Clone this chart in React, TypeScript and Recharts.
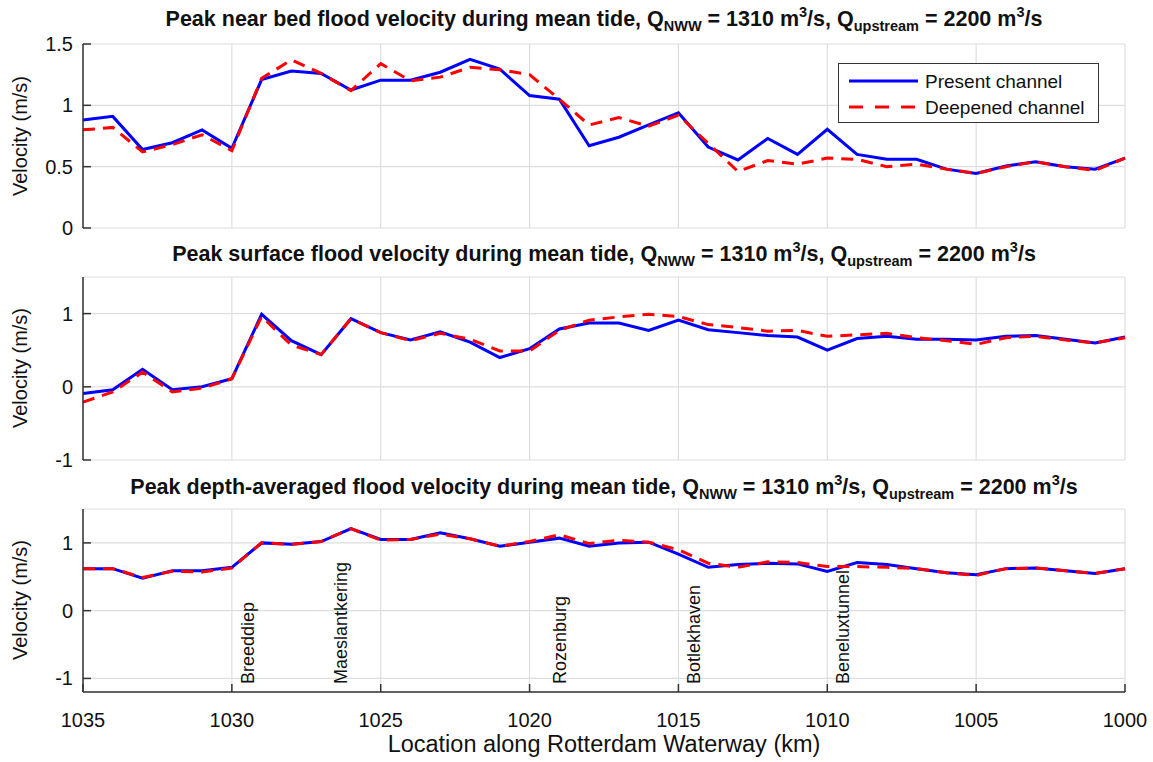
// Flood velocity along Rotterdam Waterway — three stacked panels
import React from "react"
import { LineChart, Line, XAxis, YAxis, CartesianGrid, ReferenceLine } from "recharts"

const km = [
  1035, 1034, 1033, 1032, 1031, 1030, 1029, 1028, 1027, 1026, 1025, 1024,
  1023, 1022, 1021, 1020, 1019, 1018, 1017, 1016, 1015, 1014, 1013, 1012,
  1011, 1010, 1009, 1008, 1007, 1006, 1005, 1004, 1003, 1002, 1001, 1000,
]

const bedPresent = [
  0.88, 0.91, 0.64, 0.695, 0.8, 0.65, 1.21, 1.28, 1.26, 1.125, 1.205, 1.205,
  1.27, 1.375, 1.295, 1.08, 1.05, 0.67, 0.74, 0.84, 0.94, 0.66, 0.555, 0.73,
  0.6, 0.805, 0.6, 0.56, 0.56, 0.48, 0.445, 0.505, 0.54, 0.5, 0.48, 0.57,
]
const bedDeepened = [
  0.8, 0.82, 0.62, 0.68, 0.76, 0.63, 1.22, 1.37, 1.26, 1.12, 1.34, 1.2,
  1.23, 1.31, 1.29, 1.25, 1.05, 0.84, 0.9, 0.83, 0.92, 0.69, 0.46, 0.55,
  0.52, 0.57, 0.56, 0.5, 0.52, 0.48, 0.445, 0.5, 0.54, 0.5, 0.47, 0.57,
]

const surfPresent = [
  -0.09, -0.04, 0.24, -0.04, 0.0, 0.11, 0.99, 0.63, 0.44, 0.93, 0.74, 0.64,
  0.75, 0.61, 0.4, 0.52, 0.79, 0.87, 0.87, 0.77, 0.91, 0.78, 0.74, 0.7,
  0.68, 0.5, 0.66, 0.69, 0.65, 0.65, 0.64, 0.69, 0.7, 0.65, 0.6, 0.68,
]
const surfDeepened = [
  -0.21, -0.07, 0.2, -0.07, -0.02, 0.11, 0.96, 0.57, 0.44, 0.93, 0.74, 0.63,
  0.73, 0.65, 0.49, 0.49, 0.77, 0.91, 0.955, 0.99, 0.96, 0.85, 0.81, 0.76,
  0.77, 0.69, 0.71, 0.73, 0.67, 0.63, 0.58, 0.67, 0.69, 0.64, 0.6, 0.67,
]

const avgPresent = [
  0.62, 0.62, 0.48, 0.59, 0.59, 0.64, 1.0, 0.98, 1.02, 1.21, 1.05, 1.05,
  1.15, 1.06, 0.95, 1.01, 1.07, 0.95, 1.0, 1.01, 0.835, 0.64, 0.68, 0.7,
  0.69, 0.58, 0.71, 0.68, 0.62, 0.56, 0.53, 0.62, 0.63, 0.59, 0.55, 0.62,
]
const avgDeepened = [
  0.62, 0.62, 0.49, 0.58, 0.57, 0.63, 1.0, 0.98, 1.02, 1.21, 1.04, 1.05,
  1.13, 1.06, 0.95, 1.02, 1.12, 0.99, 1.04, 1.01, 0.9, 0.7, 0.64, 0.72,
  0.71, 0.65, 0.65, 0.64, 0.62, 0.56, 0.52, 0.62, 0.63, 0.59, 0.55, 0.62,
]

const xTicks = [1035, 1030, 1025, 1020, 1015, 1010, 1005, 1000]
const bedTicks = [0, 0.5, 1, 1.5]
const surfTicks = [-1, 0, 1]
const avgTicks = [-1, 0, 1]

const stationNames = ["Breeddiep", "Maeslantkering", "Rozenburg", "Botlekhaven", "Beneluxtunnel"]
const stationKm = [1029.46, 1026.33, 1018.98, 1014.48, 1009.47]

const FONT = "'Liberation Sans', Arial, Helvetica, sans-serif"
const TITLE_FONT = "'Liberation Sans Narrow', 'Arial Narrow', 'Liberation Sans', Arial, sans-serif"
const BOX = "#333333"
const GRID = "#dedede"
const BLUE = "#0000ff"
const RED = "#ff0000"

function buildRows(present: number[], deepened: number[]) {
  return km.map((k, i) => ({ km: k, present: present[i], deepened: deepened[i] }))
}

function BottomTick({ x, y, payload, showLabel }: any) {
  return (
    <g>
      <line x1={x} x2={x} y1={y} y2={y - 8} stroke={BOX} strokeWidth={1.5} />
      {showLabel && (
        <text x={x} y={y + 35} textAnchor="middle" fontSize={20} fontFamily={FONT} fill="#111">
          {payload.value}
        </text>
      )}
    </g>
  )
}

function TopTick({ x, y }: any) {
  return <line x1={x} x2={x} y1={y} y2={y + 8} stroke={BOX} strokeWidth={1.5} />
}

function LeftTick({ x, y, payload }: any) {
  return (
    <g>
      <line x1={x} x2={x + 8} y1={y} y2={y} stroke={BOX} strokeWidth={1.5} />
      <text x={x - 10} y={y + 7} textAnchor="end" fontSize={20} fontFamily={FONT} fill="#111">
        {payload.value}
      </text>
    </g>
  )
}

function RightTick({ x, y }: any) {
  return <line x1={x} x2={x - 8} y1={y} y2={y} stroke={BOX} strokeWidth={1.5} />
}

function stationLabel(name: string) {
  return (props: any) => {
    const vb = props.viewBox || {}
    const bx = vb.x
    const by = vb.y + vb.height - 8
    return (
      <text
        transform={`translate(${bx}, ${by}) rotate(-90)`}
        textAnchor="start"
        dominantBaseline="central"
        fontSize={18}
        fontFamily={FONT}
        fill="#111"
      >
        {name}
      </text>
    )
  }
}

interface PanelProps {
  plotTop: number
  plotHeight: number
  present: number[]
  deepened: number[]
  domain: [number, number]
  ticks: number[]
  showXLabels?: boolean
  stations?: boolean
}

function Panel({ plotTop, plotHeight, present, deepened, domain, ticks, showXLabels, stations }: PanelProps) {
  const xAxisH = showXLabels ? 40 : 0
  const rows = buildRows(present, deepened)
  return (
    <div style={{ position: "absolute", left: 0, top: plotTop - 10 }}>
      <LineChart
        width={1153}
        height={plotHeight + 20 + xAxisH}
        data={rows}
        margin={{ top: 10, right: 28, bottom: 10, left: 0 }}
      >
        <CartesianGrid stroke={GRID} strokeWidth={1.2} />
        <XAxis
          dataKey="km"
          type="number"
          domain={[1000, 1035]}
          reversed
          ticks={xTicks}
          interval={0}
          height={xAxisH}
          tickSize={0}
          tickMargin={0}
          tickLine={false}
          axisLine={{ stroke: BOX, strokeWidth: 1.5 }}
          tick={(p: any) => <BottomTick {...p} showLabel={showXLabels} />}
        />
        <XAxis
          xAxisId="top"
          orientation="top"
          dataKey="km"
          type="number"
          domain={[1000, 1035]}
          reversed
          ticks={xTicks}
          interval={0}
          height={0}
          tickSize={0}
          tickMargin={0}
          tickLine={false}
          axisLine={{ stroke: BOX, strokeWidth: 1.5 }}
          tick={(p: any) => <TopTick {...p} />}
        />
        <YAxis
          type="number"
          domain={domain}
          ticks={ticks}
          interval={0}
          width={83}
          tickSize={0}
          tickMargin={0}
          tickLine={false}
          allowDataOverflow
          axisLine={{ stroke: BOX, strokeWidth: 1.5 }}
          tick={(p: any) => <LeftTick {...p} />}
        />
        <YAxis
          yAxisId="right"
          orientation="right"
          type="number"
          domain={domain}
          ticks={ticks}
          interval={0}
          width={0}
          tickSize={0}
          tickMargin={0}
          tickLine={false}
          allowDataOverflow
          axisLine={{ stroke: BOX, strokeWidth: 1.5 }}
          tick={(p: any) => <RightTick {...p} />}
        />
        {stations &&
          stationNames.map((n, i) => (
            <ReferenceLine key={n} x={stationKm[i]} stroke="transparent" label={stationLabel(n)} />
          ))}
        <Line
          dataKey="present"
          type="linear"
          stroke={BLUE}
          strokeWidth={3}
          dot={false}
          isAnimationActive={false}
        />
        <Line
          dataKey="deepened"
          type="linear"
          stroke={RED}
          strokeWidth={3}
          strokeDasharray="12 8"
          dot={false}
          isAnimationActive={false}
        />
      </LineChart>
    </div>
  )
}

const subStyle: React.CSSProperties = { fontSize: 14.5, verticalAlign: "-5px", lineHeight: 0 }
const supStyle: React.CSSProperties = { fontSize: 14.5, verticalAlign: "9px", lineHeight: 0 }

function Title({ top, text }: { top: number; text: string }) {
  return (
    <div
      style={{
        position: "absolute",
        top,
        left: 83,
        width: 1042,
        textAlign: "center",
        fontFamily: TITLE_FONT,
        fontWeight: "bold",
        fontSize: 21.5,
        lineHeight: "22px",
        color: "#111",
        whiteSpace: "nowrap",
      }}
    >
      {text}, Q<span style={subStyle}>NWW</span> = 1310 m<span style={supStyle}>3</span>/s, Q
      <span style={subStyle}>upstream</span> = 2200 m<span style={supStyle}>3</span>/s
    </div>
  )
}

function YLabel({ centerY }: { centerY: number }) {
  return (
    <div
      style={{
        position: "absolute",
        left: 20,
        top: centerY,
        transform: "translate(-50%, -50%) rotate(-90deg)",
        fontFamily: FONT,
        fontSize: 20,
        color: "#111",
        whiteSpace: "nowrap",
      }}
    >
      Velocity (m/s)
    </div>
  )
}

function LegendBox() {
  return (
    <div
      style={{
        position: "absolute",
        left: 838,
        top: 63,
        width: 259,
        height: 58,
        background: "#fff",
        border: `1px solid ${BOX}`,
        fontFamily: FONT,
        fontSize: 19,
        color: "#111",
      }}
    >
      <svg width={259} height={58} style={{ position: "absolute", left: 0, top: 0 }}>
        <line x1={10} x2={79} y1={17} y2={17} stroke={BLUE} strokeWidth={3} />
        <line x1={10} x2={79} y1={43} y2={43} stroke={RED} strokeWidth={3} strokeDasharray="14 12" />
        <text x={86} y={24} fontSize={19} fontFamily={FONT} fill="#111">Present channel</text>
        <text x={86} y={50} fontSize={19} fontFamily={FONT} fill="#111">Deepened channel</text>
      </svg>
    </div>
  )
}

export default function App() {
  return (
    <div style={{ position: "absolute", left: 0, top: 0, width: 1153, height: 762, background: "#fff" }}>
      <Title top={8} text="Peak near bed flood velocity during mean tide" />
      <Panel plotTop={44} plotHeight={184} present={bedPresent} deepened={bedDeepened} domain={[0, 1.5]} ticks={bedTicks} />
      <YLabel centerY={136} />
      <LegendBox />

      <Title top={243} text="Peak surface flood velocity during mean tide" />
      <Panel plotTop={277} plotHeight={183} present={surfPresent} deepened={surfDeepened} domain={[-1, 1.5]} ticks={surfTicks} />
      <YLabel centerY={368} />

      <Title top={476} text="Peak depth-averaged flood velocity during mean tide" />
      <Panel
        plotTop={509}
        plotHeight={183}
        present={avgPresent}
        deepened={avgDeepened}
        domain={[-1.2, 1.5]}
        ticks={avgTicks}
        showXLabels
        stations
      />
      <YLabel centerY={600} />

      <div
        style={{
          position: "absolute",
          top: 731,
          left: 83,
          width: 1042,
          textAlign: "center",
          fontFamily: FONT,
          fontSize: 23.5,
          lineHeight: "26px",
          color: "#111",
        }}
      >
        Location along Rotterdam Waterway (km)
      </div>
    </div>
  )
}
